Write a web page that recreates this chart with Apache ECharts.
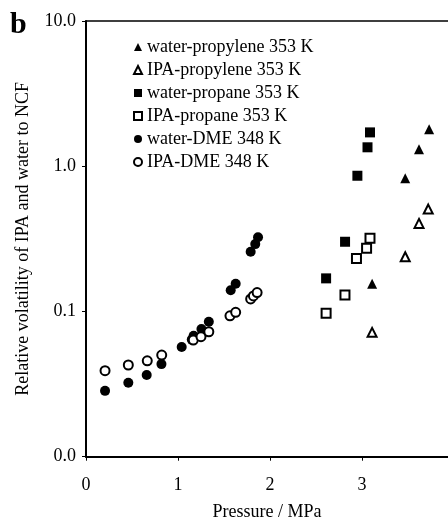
<!DOCTYPE html>
<html>
<head>
<meta charset="utf-8">
<script src="https://cdn.jsdelivr.net/npm/echarts@6/dist/echarts.min.js"></script>
<style>html,body{margin:0;padding:0;background:#fff}#c{width:448px;height:518px}</style>
</head>
<body>
<div id="c"></div>
<script>
// Pressure (MPa) and relative volatility values
var waterPropyleneX = [3.11, 3.47, 3.62, 3.73];
var waterPropyleneY = [0.155, 0.826, 1.31, 1.80];
var ipaPropyleneX = [3.11, 3.47, 3.62, 3.72];
var ipaPropyleneY = [0.0718, 0.238, 0.404, 0.507];
var waterPropaneX = [2.61, 2.816, 2.95, 3.06, 3.087];
var waterPropaneY = [0.169, 0.302, 0.860, 1.35, 1.71];
var ipaPropaneX = [2.61, 2.815, 2.94, 3.05, 3.087];
var ipaPropaneY = [0.0973, 0.130, 0.232, 0.272, 0.319];
var waterDmeX = [0.207, 0.46, 0.66, 0.82, 1.04, 1.15, 1.17, 1.255, 1.335, 1.573, 1.627, 1.79, 1.84, 1.87];
var waterDmeY = [0.0284, 0.0323, 0.0365, 0.0434, 0.0569, 0.064, 0.068, 0.0757, 0.0849, 0.140, 0.155, 0.258, 0.291, 0.324];
var ipaDmeX = [0.207, 0.46, 0.666, 0.823, 1.166, 1.25, 1.335, 1.565, 1.627, 1.79, 1.82, 1.86];
var ipaDmeY = [0.0391, 0.0428, 0.0457, 0.0501, 0.0635, 0.0670, 0.0725, 0.0934, 0.0986, 0.122, 0.128, 0.135];
var seriesNames = ['water-propylene 353 K', 'IPA-propylene 353 K', 'water-propane 353 K', 'IPA-propane 353 K', 'water-DME 348 K', 'IPA-DME 348 K'];
var xTicks = [0, 1, 2, 3];
var xMax = 3.935; // the figure is cropped at the right edge
var yTicks = [0.01, 0.1, 1, 10];

function pairs(xs, ys) { return xs.map(function (x, i) { return [x, ys[i]]; }); }
var FONT = 'Liberation Serif';
var chart = echarts.init(document.getElementById('c'), null, {renderer: 'canvas'});
function mk(name, xs, ys, symbol, filled, size) {
  return {
    name: name, type: 'scatter', data: pairs(xs, ys), symbol: symbol, symbolSize: size,
    itemStyle: filled ? {color: '#000', borderColor: '#000', borderWidth: 0, opacity: 1}
                      : {color: '#fff', borderColor: '#000', borderWidth: 2, opacity: 1},
    emphasis: {disabled: true}
  };
}
var axisText = {fontFamily: FONT, fontSize: 18, color: '#000'};
chart.setOption({
  animation: false,
  backgroundColor: '#fff',
  textStyle: {fontFamily: FONT},
  graphic: [{type: 'text', left: 10, top: 10, style: {text: 'b', font: 'bold 30px "Liberation Serif"', fill: '#000'}}],
  grid: {left: 86, top: 21, right: 0, bottom: 61.3, show: false, containLabel: false, outerBoundsMode: 'none'},
  legend: {
    orient: 'vertical', left: 128, top: 33, itemWidth: 8, itemHeight: 8, itemGap: 5,
    data: seriesNames, selectedMode: false,
    textStyle: {fontFamily: FONT, fontSize: 18, color: '#000', lineHeight: 18}
  },
  xAxis: [{
    type: 'value', min: xTicks[0], max: xMax, interval: 1,
    name: 'Pressure / MPa', nameLocation: 'middle', nameGap: 47,
    nameTextStyle: axisText,
    axisLine: {show: true, onZero: false, lineStyle: {color: '#000', width: 2}},
    axisTick: {show: true, inside: false, length: 4, lineStyle: {color: '#000', width: 1}},
    axisLabel: {fontFamily: FONT, fontSize: 18, color: '#000', margin: 20, showMaxLabel: false},
    splitLine: {show: false}
  }, {
    type: 'value', position: 'top', min: xTicks[0], max: xMax,
    axisLine: {show: true, onZero: false, lineStyle: {color: '#000', width: 1.5}},
    axisTick: {show: false}, axisLabel: {show: false}, splitLine: {show: false}
  }],
  yAxis: {
    type: 'log', logBase: 10, min: yTicks[0], max: yTicks[yTicks.length - 1],
    name: 'Relative volatility of IPA and water to NCF', nameLocation: 'middle', nameGap: 54, nameRotate: 90,
    nameTextStyle: axisText,
    axisLine: {show: true, lineStyle: {color: '#000', width: 2}},
    axisTick: {show: true, inside: false, length: 4, lineStyle: {color: '#000', width: 1}},
    axisLabel: {fontFamily: FONT, fontSize: 18, color: '#000', margin: 10,
      formatter: function (v) { return Number(v).toFixed(1); }},
    splitLine: {show: false}, minorTick: {show: false}
  },
  series: [
    mk(seriesNames[0], waterPropyleneX, waterPropyleneY, 'triangle', true, 10),
    mk(seriesNames[1], ipaPropyleneX, ipaPropyleneY, 'triangle', false, 9),
    mk(seriesNames[2], waterPropaneX, waterPropaneY, 'rect', true, 10),
    mk(seriesNames[3], ipaPropaneX, ipaPropaneY, 'rect', false, 9),
    mk(seriesNames[4], waterDmeX, waterDmeY, 'circle', true, 10),
    mk(seriesNames[5], ipaDmeX, ipaDmeY, 'circle', false, 9)
  ]
});
</script>
</body>
</html>
